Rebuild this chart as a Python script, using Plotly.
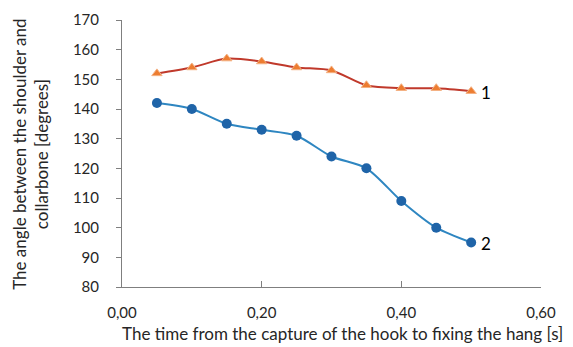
import plotly.graph_objects as go

time_s = [0.05, 0.10, 0.15, 0.20, 0.25, 0.30, 0.35, 0.40, 0.45, 0.50]
angle_1 = [152, 154, 157, 156, 154, 153, 148, 147, 147, 146]
angle_2 = [142, 140, 135, 133, 131, 124, 120, 109, 100, 95]
series_labels = ["1", "2"]
x_ticks = [0.0, 0.2, 0.4, 0.6]
y_ticks = [80, 90, 100, 110, 120, 130, 140, 150, 160, 170]

FONT = "Lato, Open Sans, sans-serif"
AXIS_COLOR = "#7f7f7f"
TXT = "#262626"

# page body has an 8px default margin; figure sized to fit the window
W, H = 565, 339
L, T, R, B = 114, 12, 32, 60

fig = go.Figure()
fig.add_trace(go.Scatter(
    x=time_s, y=angle_1, mode="lines+markers",
    line=dict(color="#C0392B", width=2, shape="spline", smoothing=0.8),
    marker=dict(symbol="triangle-up", size=9, color="#ED7D31",
                line=dict(color="#F4B183", width=1)),
    showlegend=False))
fig.add_trace(go.Scatter(
    x=time_s, y=angle_2, mode="lines+markers",
    line=dict(color="#2E86C1", width=2, shape="spline", smoothing=0.8),
    marker=dict(symbol="circle", size=10, color="#1F64A8",
                line=dict(color="#1F64A8", width=0)),
    showlegend=False))

for lab, ys in zip(series_labels, [angle_1, angle_2]):
    fig.add_annotation(x=time_s[-1], y=ys[-1], text=lab, showarrow=False,
                       xanchor="left", xshift=8, yshift=-1,
                       font=dict(family=FONT, size=17, color="#000000"))

pw, ph = W - L - R, H - T - B
fig.add_annotation(
    xref="paper", yref="paper", x=(23 - L) / pw, y=0.495,
    text="The angle between the shoulder and<br>collarbone [degrees]",
    textangle=-90, showarrow=False, xanchor="center", yanchor="middle",
    borderpad=0,
    font=dict(family=FONT, size=17, color=TXT))
fig.add_annotation(
    xref="paper", yref="paper", x=(334 - L) / pw, y=-(325 - (T + ph)) / ph,
    text="The time from the capture of the hook to fixing the hang [s]",
    showarrow=False, xanchor="center", yanchor="middle",
    font=dict(family=FONT, size=17, color=TXT))

fig.update_layout(
    width=W, height=H,
    margin=dict(l=L, r=R, t=T, b=B, autoexpand=False),
    paper_bgcolor="white", plot_bgcolor="white",
    separators=",.",
    font=dict(family=FONT, size=15, color=TXT),
    xaxis=dict(range=[0, 0.6], tickvals=x_ticks, tickformat=".2f",
               automargin=False,
               showgrid=False, zeroline=False, showline=True,
               linecolor=AXIS_COLOR, linewidth=1,
               ticks="inside", ticklen=6, tickcolor=AXIS_COLOR,
               ticklabelstandoff=12),
    yaxis=dict(range=[80, 170], tickvals=y_ticks, automargin=False,
               showgrid=False, zeroline=False, showline=True,
               linecolor=AXIS_COLOR, linewidth=1,
               ticks="outside", ticklen=5, tickcolor=AXIS_COLOR,
               ticklabelstandoff=14),
)

fig.write_html("out.html")
